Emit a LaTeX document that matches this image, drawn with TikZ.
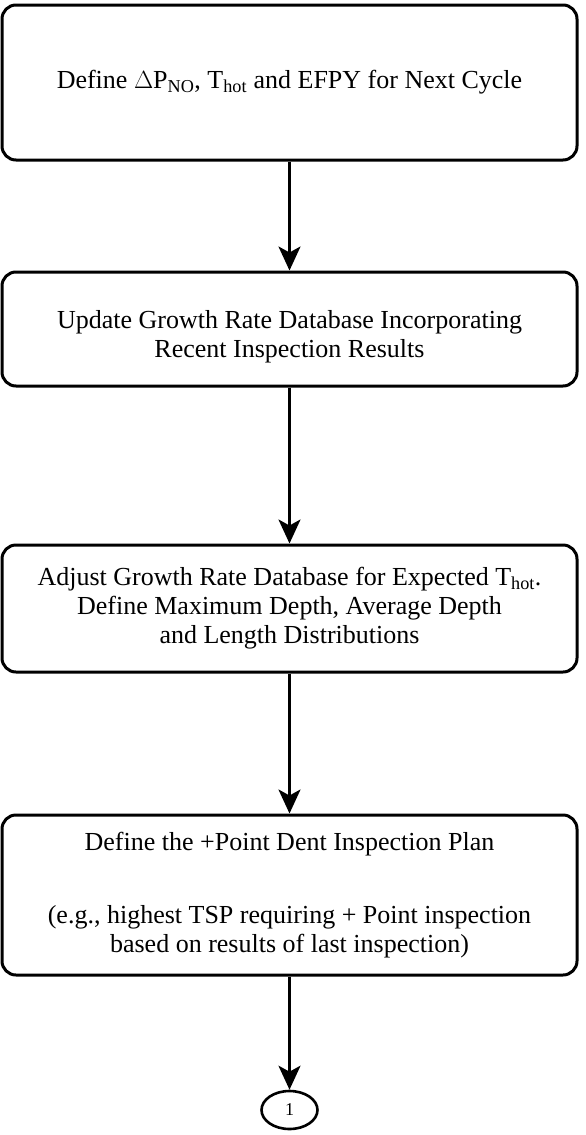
\documentclass[tikz,border=0pt]{standalone}
\usepackage{fontspec}
\setmainfont{Liberation Serif}
\usepackage{tikz}
\usetikzlibrary{
    arrows.meta,
    shapes.geometric,
    positioning
}

\begin{document}
\begin{tikzpicture}[x=1pt, y=-1pt,
        stepbox/.style={draw, rounded corners=14pt, line width=3pt, align=center,
            minimum width=575pt, inner sep=0pt, font=\fontsize{26}{29}\selectfont},
        flow/.style={-{Stealth[length=24pt, width=22pt, inset=6pt]}, line width=2.6pt},
        connector/.style={draw, ellipse, line width=2.6pt, minimum width=56pt,
            minimum height=38pt, inner sep=0pt, font=\fontsize{18}{20}\selectfont}]
        \useasboundingbox (0, 0) rectangle (586, 1135);
        \node[stepbox, minimum height=155pt] (cycle) at (289.5, 82.5)
            {Define $\Delta$P\textsubscript{NO}, T\textsubscript{hot} and EFPY for Next Cycle};
        \node[stepbox, minimum height=114pt] (update) at (289.5, 329)
            {\rule{0pt}{34pt}Update Growth Rate Database Incorporating\\Recent Inspection Results};
        \node[stepbox, minimum height=127pt] (adjust) at (289.5, 608.5)
            {Adjust Growth Rate Database for Expected T\textsubscript{hot}.\\
             Define Maximum Depth, Average Depth\\and Length Distributions};
        \node[stepbox, minimum height=160pt] (plan) at (289.5, 895)
            {Define the +Point Dent Inspection Plan\\[44pt]
             (e.g., highest TSP requiring + Point inspection\\
             based on results of last inspection)};
        \node[connector] (one) at (289.5, 1110) {1};

        \draw[flow] (cycle) -- (update);
        \draw[flow] (update) -- (adjust);
        \draw[flow] (adjust) -- (plan);
        \draw[flow] (plan) -- (one);
    \end{tikzpicture}
\end{document}
